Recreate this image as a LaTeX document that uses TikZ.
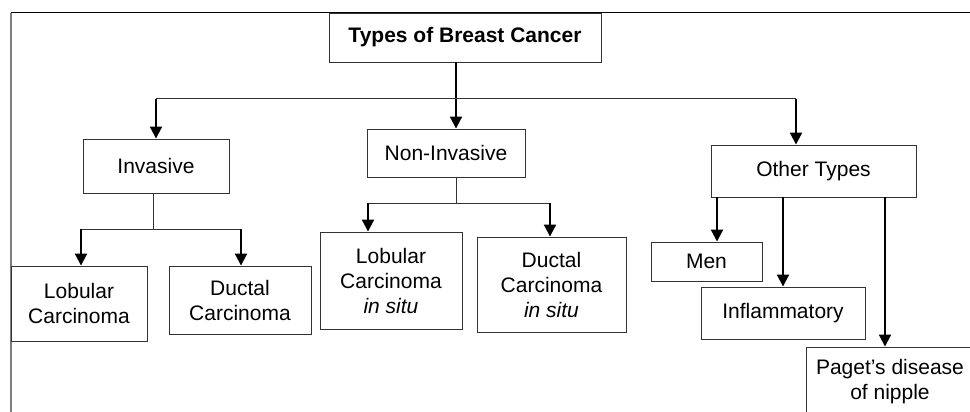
\documentclass[tikz,border=0pt]{standalone}
\usepackage{fontspec}
\setmainfont{Liberation Sans}
\usetikzlibrary{arrows.meta}
\begin{document}
\begin{tikzpicture}[x=1pt, y=-1pt,
  box/.style={draw=black!80, line width=0.9pt, inner sep=0pt, align=center,
    font=\fontsize{21}{25}\selectfont},
  link/.style={draw=black!80, line width=1pt},
  arr/.style={line width=2pt, -{Triangle[width=12pt,length=12pt]}}]
\useasboundingbox (0,0) rectangle (970,412);
\draw[black!50, line width=1.3pt] (11,412) -- (11,13);
\draw[line width=1pt] (11,13) -- (970,13);
\node [box, font=\fontsize{21}{25}\selectfont\bfseries, minimum width=272pt, minimum height=49pt] (types) at (465,37.5) {Types of Breast Cancer};
\node [box, minimum width=146pt, minimum height=54pt] (inv) at (156,166) {Invasive};
\node [box, minimum width=158pt, minimum height=48pt] (nonin) at (446,153) {Non-Invasive};
\node [box, minimum width=205pt, minimum height=52pt] (other) at (813.5,171) {Other Types};
\node [box, minimum width=136pt, minimum height=75pt] (lob) at (79,303.5) {Lobular\\Carcinoma};
\node [box, minimum width=142pt, minimum height=68pt] (duct) at (240,300) {Ductal\\Carcinoma};
\node [box, minimum width=142pt, minimum height=97pt] (lcis) at (391,280.5) {Lobular\\Carcinoma\\\textit{in situ}};
\node [box, minimum width=149pt, minimum height=95pt] (dcis) at (551.5,284.5) {Ductal\\Carcinoma\\\textit{in situ}};
\node [box, minimum width=111pt, minimum height=39pt] (men) at (706.5,261.5) {Men};
\node [box, minimum width=164pt, minimum height=52pt] (infl) at (783,313) {Inflammatory};
\node [box, minimum width=168pt, minimum height=70pt] (paget) at (890,382) {Paget’s disease\\of nipple};
\coordinate (ni) at (456,0);
\coordinate (splitA) at (156,99);
\coordinate (splitB) at (796,99);
\draw[arr] (types.south -| ni) -- (nonin.north -| ni);
\draw[link] (splitA) -- (splitB);
\draw[arr] (splitA) -- (inv.north);
\draw[arr] (splitB) -- (splitB |- other.north);
\coordinate (ic) at (153,229);
\coordinate (il) at (81,229);
\coordinate (ir) at (241,229);
\draw[link] (inv.south -| ic) -- (ic);
\draw[link] (il) -- (ir);
\draw[arr] (il) -- (il |- lob.north);
\draw[arr] (ir) -- (ir |- duct.north);
\coordinate (nl) at (368,203);
\coordinate (nr) at (550,203);
\draw[link] (nonin.south -| ni) -- (ni |- nl);
\draw[link] (nl) -- (nr);
\draw[arr] (nl) -- (nl |- lcis.north);
\draw[arr] (nr) -- (nr |- dcis.north);
\coordinate (om) at (717,0);
\coordinate (oi) at (783,0);
\coordinate (op) at (885,0);
\draw[arr] (other.south -| om) -- (men.north -| om);
\draw[arr] (other.south -| oi) -- (infl.north -| oi);
\draw[arr] (other.south -| op) -- (paget.north -| op);
\end{tikzpicture}
\end{document}
